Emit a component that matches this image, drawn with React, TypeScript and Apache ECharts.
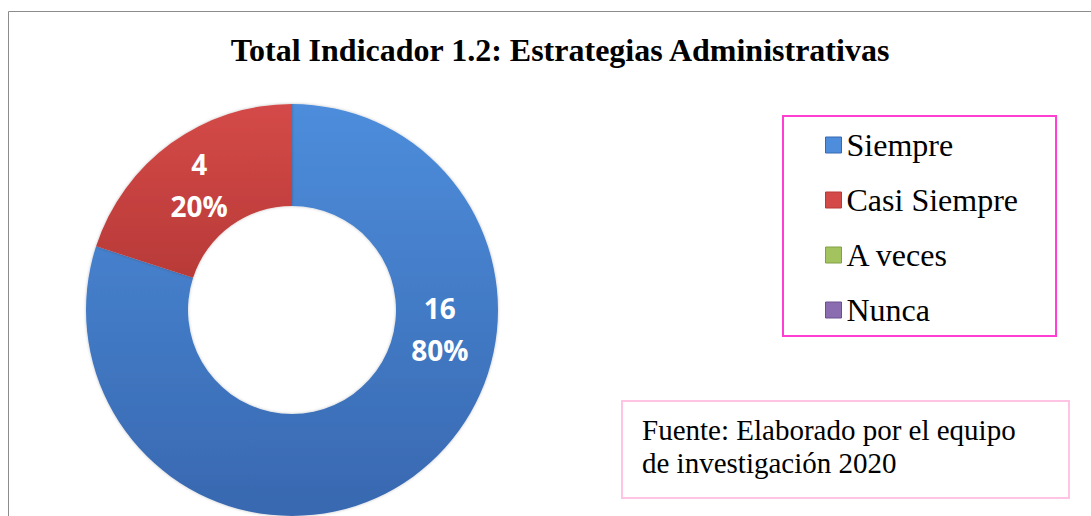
import React, { useEffect, useRef } from "react";
import * as echarts from "echarts";

const titleText = "Total Indicador 1.2: Estrategias Administrativas";
const categories = ["Siempre", "Casi Siempre", "A veces", "Nunca"];
const values = [16, 4, 0, 0];
const sourceLines = ["Fuente: Elaborado por el equipo", "de investigación 2020"];

const colorTop = ["#4d8ddb", "#d44a48", "#a2c35e", "#8a6cb0"];
const colorBottom = ["#3868b0", "#b83a38", "#82a044", "#6a5090"];

export default function App() {
  const ref = useRef<HTMLDivElement>(null);
  useEffect(() => {
    if (!ref.current) return;
    const chart = echarts.init(ref.current, null, { renderer: "svg" });
    const data = categories.map((name, i) => ({
      name,
      value: values[i],
      itemStyle: {
        color: new echarts.graphic.LinearGradient(0, 0, 0, 1, [
          { offset: 0, color: colorTop[i] },
          { offset: 1, color: colorBottom[i] },
        ]),
      },
      label: { show: values[i] > 0 },
    }));
    chart.setOption({
      animation: false,
      backgroundColor: "#ffffff",
      color: colorTop,
      textStyle: { fontFamily: "Liberation Serif" },
      title: {
        text: titleText,
        left: 555,
        top: 29,
        textAlign: "center",
        textStyle: {
          fontFamily: "Liberation Serif",
          fontWeight: "bold",
          fontSize: 32,
          color: "#000000",
        },
      },
      legend: {
        orient: "vertical",
        left: 783,
        top: 116,
        padding: [13, 38, 10, 42],
        itemGap: 23,
        itemWidth: 16,
        itemHeight: 16,
        icon: "rect",
        borderColor: "#ff3fd2",
        borderWidth: 2,
        data: categories.map((name, i) => ({
          name,
          itemStyle: { color: colorTop[i], borderColor: colorBottom[i], borderWidth: 1 },
        })),
        textStyle: {
          fontFamily: "Liberation Serif",
          fontSize: 32,
          color: "#000000",
        },
      },
      graphic: [
        {
          type: "rect",
          z: -10,
          silent: true,
          shape: { x: 8.5, y: 11.5, width: 1200, height: 700 },
          style: { fill: "none", stroke: "#8c8c8c", lineWidth: 1 },
        },
        {
          type: "rect",
          silent: true,
          shape: { x: 622, y: 401, width: 447, height: 97 },
          style: { fill: "#ffffff", stroke: "#ffc4e4", lineWidth: 2 },
        },
        {
          type: "text",
          silent: true,
          x: 642,
          y: 413,
          style: {
            text: sourceLines.join("\n"),
            fontFamily: "Liberation Serif",
            fontSize: 29,
            lineHeight: 33,
            fill: "#000000",
          },
        },
      ],
      series: [
        {
          type: "pie",
          center: [292, 310],
          radius: [104, 206],
          startAngle: 90,
          clockwise: true,
          avoidLabelOverlap: false,
          label: {
            position: "inside",
            formatter: "{c}\n{d}%",
            fontFamily: "Open Sans",
            fontWeight: "bold",
            fontSize: 28,
            lineHeight: 42,
            color: "#ffffff",
          },
          labelLine: { show: false },
          labelLayout: (params: any) => {
            if (params.dataIndex === 0) return { dx: 55, dy: -109 };
            return { dy: 3 };
          },
          emphasis: { disabled: true },
          itemStyle: {
            borderWidth: 0,
            shadowBlur: 3,
            shadowColor: "rgba(0,0,0,0.25)",
          },
          data,
        },
      ],
    });
    return () => chart.dispose();
  }, []);
  return (
    <div
      ref={ref}
      style={{ position: "fixed", left: 0, top: 0, width: 1091, height: 516 }}
    />
  );
}
